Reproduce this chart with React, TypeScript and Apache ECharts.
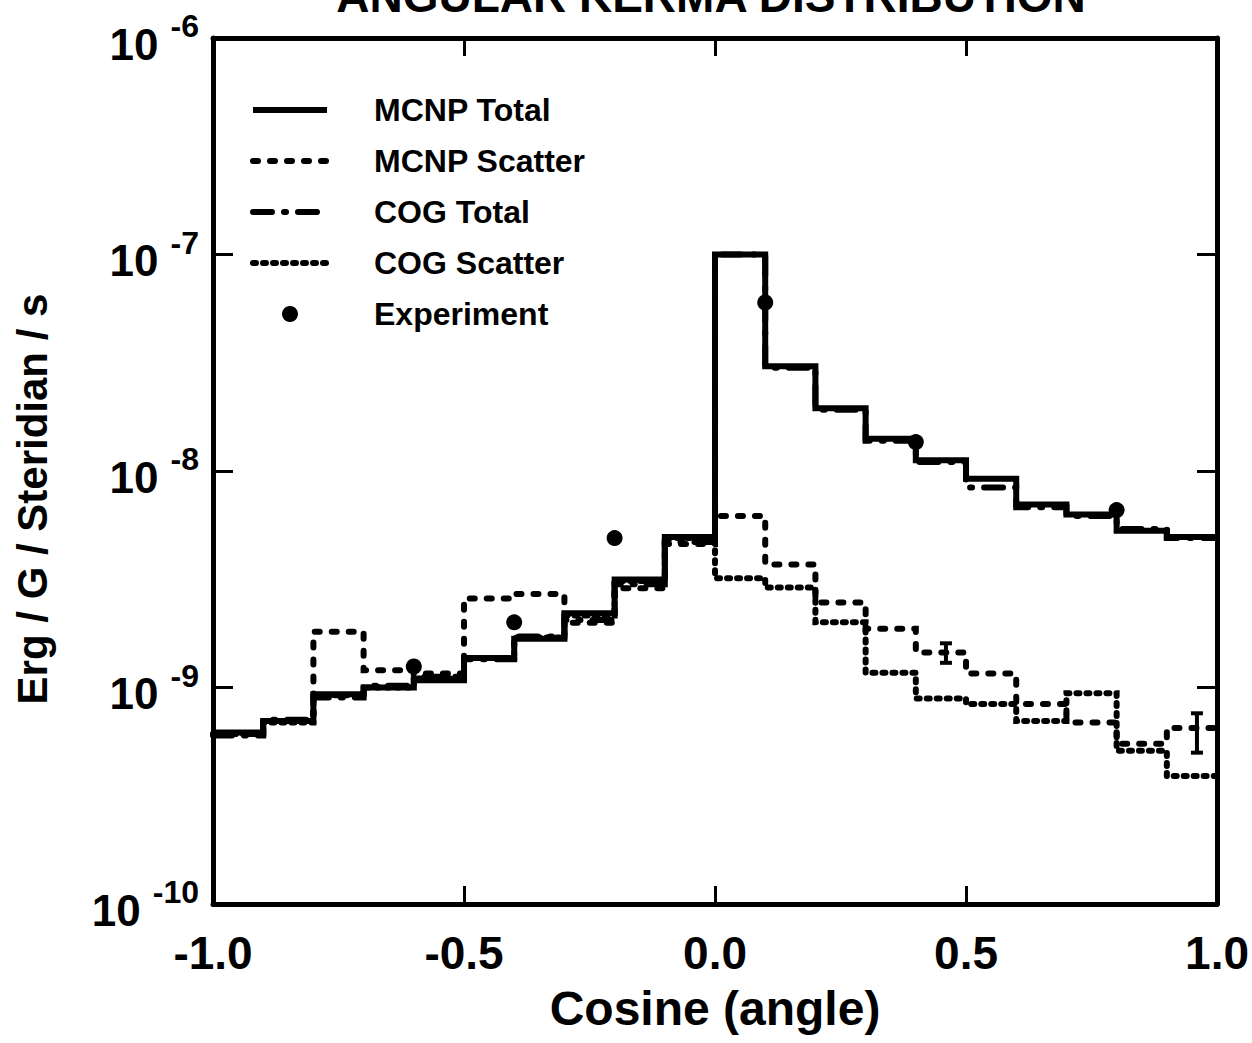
import React, { useEffect, useRef } from "react";
import * as echarts from "echarts";

// ---- data ----
const binStarts = [-1.0, -0.9, -0.8, -0.7, -0.6, -0.5, -0.4, -0.3, -0.2, -0.1, 0.0, 0.1, 0.2, 0.3, 0.4, 0.5, 0.6, 0.7, 0.8, 0.9];
const binEnd = 1.0;

const mcnpTotal = [6.2e-10, 7.0e-10, 9.3e-10, 1.0e-9, 1.08e-9, 1.37e-9, 1.68e-9, 2.2e-9, 3.15e-9, 4.95e-9,
  1.0e-7, 3.05e-8, 1.95e-8, 1.41e-8, 1.12e-8, 9.2e-9, 7.0e-9, 6.3e-9, 5.3e-9, 4.95e-9];
const mcnpScatter = [6.1e-10, 7.0e-10, 1.81e-9, 1.2e-9, 1.16e-9, 2.58e-9, 2.7e-9, 1.99e-9, 2.87e-9, 4.6e-9,
  6.2e-9, 3.7e-9, 2.47e-9, 1.87e-9, 1.45e-9, 1.16e-9, 8.4e-10, 6.9e-10, 5.5e-10, 6.5e-10];
const cogTotal = [6.0e-10, 7.1e-10, 9.0e-10, 1.02e-9, 1.12e-9, 1.35e-9, 1.72e-9, 2.05e-9, 3.0e-9, 4.7e-9,
  1.0e-7, 3.0e-8, 1.92e-8, 1.38e-8, 1.1e-8, 8.4e-9, 6.8e-9, 6.2e-9, 5.4e-9, 4.9e-9];
const cogScatter = [6.1e-10, 6.9e-10, 9.2e-10, 1.0e-9, 1.1e-9, 1.37e-9, 1.7e-9, 2.15e-9, 3.1e-9, 4.9e-9,
  3.2e-9, 2.9e-9, 2.0e-9, 1.17e-9, 8.9e-10, 8.4e-10, 7.0e-10, 9.4e-10, 5.1e-10, 3.9e-10];

const expX = [-0.6, -0.4, -0.2, 0.1, 0.4, 0.8];
const expY = [1.25e-9, 2.0e-9, 4.9e-9, 6.0e-8, 1.36e-8, 6.6e-9];

const errX = [0.46, 0.96];
const errLow = [1.3e-9, 5.0e-10];
const errHigh = [1.6e-9, 7.6e-10];

const xTicks = ["-1.0", "-0.5", "0.0", "0.5", "1.0"];
const legendNames = ["MCNP Total", "MCNP Scatter", "COG Total", "COG Scatter", "Experiment"];

const FONT = "'Liberation Sans', Arial, Helvetica, sans-serif";

function stepData(vals: number[]) {
  const d: number[][] = binStarts.map((x, i) => [x, vals[i]]);
  d.push([binEnd, vals[vals.length - 1]]);
  return d;
}

export default function App() {
  const ref = useRef<HTMLDivElement>(null);
  useEffect(() => {
    if (!ref.current) return;
    const chart = echarts.init(ref.current, undefined, { renderer: "svg" });
    const axisLine = { show: true, onZero: false, lineStyle: { color: "#000", width: 5 } };
    const lineSeries = (name: string, vals: number[], type: any, z: number) => ({
      name,
      type: "line",
      step: "end",
      symbol: "none",
      z,
      data: stepData(vals),
      lineStyle: { color: "#000", width: 6, type, cap: type === "solid" ? "butt" : "round", join: "miter" },
      itemStyle: { color: "#000" },
    });
    chart.setOption({
      animation: false,
      backgroundColor: "#fff",
      graphic: [
        {
          type: "text",
          x: 711,
          y: 19,
          style: {
            text: "ANGULAR KERMA DISTRIBUTION",
            fill: "#000",
            font: `bold 46px ${FONT}`,
            align: "center",
            verticalAlign: "bottom",
          },
        },
      ],
      grid: { left: 213, right: 25, top: 38, bottom: 139 },
      legend: {
        orient: "vertical",
        left: 245,
        top: 82,
        itemWidth: 74,
        itemHeight: 16,
        itemGap: 5,
        selectedMode: false,
        lineStyle: { width: 6 },
        textStyle: { fontFamily: FONT, fontWeight: "bold", fontSize: 32, lineHeight: 46, color: "#000", padding: [0, 0, 0, 42] },
        data: legendNames.map((n) =>
          n === "Experiment" ? { name: n } : { name: n, itemStyle: { color: "rgba(0,0,0,0)", borderWidth: 0 } }
        ),
      },
      xAxis: [
        {
          type: "value", min: -1, max: 1, interval: 0.5, position: "bottom",
          axisLine,
          axisTick: { inside: true, length: 18, lineStyle: { color: "#000", width: 3 } },
          splitLine: { show: false },
          axisLabel: {
            margin: 26, color: "#000", fontFamily: FONT, fontWeight: "bold", fontSize: 46,
            formatter: (v: number) => xTicks[Math.round((v + 1) / 0.5)],
          },
          name: "Cosine (angle)",
          nameLocation: "middle",
          nameGap: 80,
          nameTextStyle: { color: "#000", fontFamily: FONT, fontWeight: "bold", fontSize: 48 },
        },
        {
          type: "value", min: -1, max: 1, interval: 0.5, position: "top",
          axisLine,
          axisTick: { inside: true, length: 18, lineStyle: { color: "#000", width: 3 } },
          splitLine: { show: false },
          axisLabel: { show: false },
        },
      ],
      yAxis: [
        {
          type: "log", logBase: 10, min: 1e-10, max: 1e-6, position: "left",
          axisLine,
          axisTick: { inside: true, length: 20, lineStyle: { color: "#000", width: 3 } },
          minorTick: { show: false },
          splitLine: { show: false },
          axisLabel: {
            margin: 14,
            padding: [12, 0, 0, 0],
            formatter: (v: number) => `{b|10}{s|${Math.round(Math.log10(v))}}`,
            rich: {
              b: { fontFamily: FONT, fontWeight: "bold", fontSize: 44, lineHeight: 44, verticalAlign: "middle", color: "#000" },
              s: { fontFamily: FONT, fontWeight: "bold", fontSize: 32, lineHeight: 32, verticalAlign: "middle", color: "#000", padding: [0, 0, 36, 12] },
            },
          },
          name: "Erg / G / Steridian / s",
          nameLocation: "middle",
          nameGap: 160,
          nameRotate: 90,
          nameTextStyle: { color: "#000", fontFamily: FONT, fontWeight: "bold", fontSize: 42, padding: [0, 56, 0, 0] },
        },
        {
          type: "log", logBase: 10, min: 1e-10, max: 1e-6, position: "right",
          axisLine,
          axisTick: { inside: true, length: 20, lineStyle: { color: "#000", width: 3 } },
          splitLine: { show: false },
          axisLabel: { show: false },
        },
      ],
      series: [
        lineSeries("COG Scatter", cogScatter, [3, 7], 2),
        lineSeries("MCNP Scatter", mcnpScatter, [5, 12], 3),
        lineSeries("COG Total", cogTotal, [19, 12, 2, 12], 4),
        lineSeries("MCNP Total", mcnpTotal, "solid", 5),
        {
          name: "errors",
          type: "custom",
          z: 6,
          data: errX.map((x, i) => [x, errLow[i], errHigh[i]]),
          encode: { x: 0, y: [1, 2] },
          renderItem: (_p: any, api: any) => {
            const lo = api.coord([api.value(0), api.value(1)]);
            const hi = api.coord([api.value(0), api.value(2)]);
            const st = { stroke: "#000", lineWidth: 4 };
            return {
              type: "group",
              children: [
                { type: "line", shape: { x1: lo[0], y1: lo[1], x2: hi[0], y2: hi[1] }, style: st },
                { type: "line", shape: { x1: lo[0] - 6, y1: lo[1], x2: lo[0] + 6, y2: lo[1] }, style: st },
                { type: "line", shape: { x1: hi[0] - 6, y1: hi[1], x2: hi[0] + 6, y2: hi[1] }, style: st },
              ],
            };
          },
        },
        {
          name: "Experiment",
          type: "scatter",
          symbol: "circle",
          symbolSize: 16,
          z: 10,
          itemStyle: { color: "#000", opacity: 1 },
          data: expX.map((x, i) => [x, expY[i]]),
        },
      ],
    });
    return () => chart.dispose();
  }, []);
  return <div ref={ref} style={{ position: "fixed", left: 0, top: 0, width: 1252, height: 1043 }} />;
}
